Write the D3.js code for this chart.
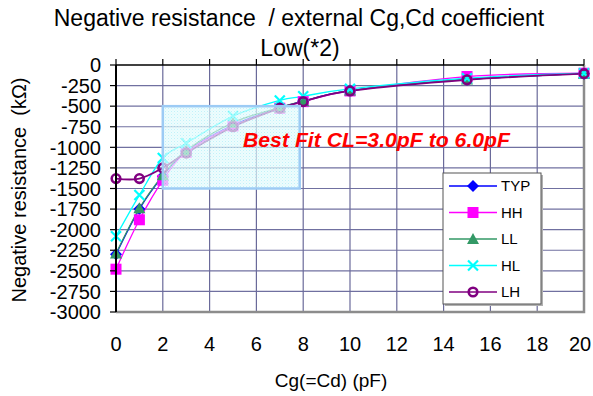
<!DOCTYPE html>
<html>
<head>
<meta charset="utf-8">
<script src="https://cdn.jsdelivr.net/npm/d3@7"></script>
<style>
  body { margin: 0; background: #fff; }
  svg { display: block; font-family: Arial, "Liberation Sans", sans-serif; }
  text { white-space: pre; }
</style>
</head>
<body>
<svg id="chart" width="593" height="396"></svg>
<script>
const width = 593;
const height = 396;

// Cg(=Cd) values in pF
const cg = [0, 1, 2, 3, 5, 7, 8, 10, 15, 20];

// negative resistance in kOhm for each condition
const typ = [-2300, -1750, -1350, -1050, -730, -520, -440, -310, -175, -105];
const hh  = [-2480, -1880, -1400, -1060, -740, -525, -445, -315, -140, -100];
const ll  = [-2290, -1740, -1340, -1040, -700, -515, -440, -310, -175, -105];
const hl  = [-2080, -1580, -1130,  -950, -620, -430, -380, -290, -160, -100];
const lh  = [-1380, -1380, -1250, -1070, -750, -525, -445, -315, -180, -105];

const seriesNames = ["TYP", "HH", "LL", "HL", "LH"];
const xTicks = [0, 2, 4, 6, 8, 10, 12, 14, 16, 18, 20];
const yTicks = [0, -250, -500, -750, -1000, -1250, -1500, -1750, -2000, -2250, -2500, -2750, -3000];

// "best fit" region
const fitX = [2, 7.85];
const fitY = [-500, -1500];

const svg = d3.select("#chart");

const x = d3.scaleLinear().domain([0, 20]).range([116, 584]);
const y = d3.scaleLinear().domain([0, -3000]).range([65, 312]);

const styles = {
  TYP: { color: "#0000ff", marker: "diamond" },
  HH:  { color: "#ff00ff", marker: "square" },
  LL:  { color: "#339966", marker: "triangle" },
  HL:  { color: "#00ffff", marker: "x" },
  LH:  { color: "#800080", marker: "circle" }
};
const values = { TYP: typ, HH: hh, LL: ll, HL: hl, LH: lh };

// pattern for the highlight box
const defs = svg.append("defs");
const pat = defs.append("pattern")
  .attr("id", "dots")
  .attr("width", 3).attr("height", 3)
  .attr("patternUnits", "userSpaceOnUse");
pat.append("rect").attr("width", 3).attr("height", 3).attr("fill", "#e6fbfd");
pat.append("rect").attr("width", 1).attr("height", 1).attr("fill", "#a6ecf5");
pat.append("rect").attr("x", 1.5).attr("y", 1.5).attr("width", 1).attr("height", 1).attr("fill", "#c8f3f8");

// grid
svg.append("g")
  .selectAll("line")
  .data(yTicks.filter(d => d !== 0 && d !== -3000))
  .enter().append("line")
  .attr("x1", x(0)).attr("x2", x(20))
  .attr("y1", d => y(d)).attr("y2", d => y(d))
  .attr("stroke", "#7070a0").attr("stroke-width", 1.2);

svg.append("g")
  .selectAll("line")
  .data(xTicks.filter(d => d !== 0 && d !== 20))
  .enter().append("line")
  .attr("x1", d => x(d)).attr("x2", d => x(d))
  .attr("y1", y(0)).attr("y2", y(-3000))
  .attr("stroke", "#6a6a9a").attr("stroke-width", 1.2);

// plot border (bottom / right)
svg.append("path")
  .attr("d", `M${x(0)},${y(-3000)}H${x(20)}V${y(0)}`)
  .attr("fill", "none")
  .attr("stroke", "#8c8c8c")
  .attr("stroke-width", 2.5);

// lines
const line = d3.line()
  .x((d, i) => x(cg[i]))
  .y(d => y(d))
  .curve(d3.curveCardinal.tension(0));

seriesNames.forEach(name => {
  svg.append("path")
    .datum(values[name])
    .attr("d", line)
    .attr("fill", "none")
    .attr("stroke", styles[name].color)
    .attr("stroke-width", name === "LH" ? 1.8 : 1.3);
});

function drawMarker(g, type, color, cx, cy) {
  if (type === "diamond") {
    g.append("path").attr("d", `M${cx},${cy - 6}L${cx + 6},${cy}L${cx},${cy + 6}L${cx - 6},${cy}Z`)
      .attr("fill", color);
  } else if (type === "square") {
    g.append("rect").attr("x", cx - 5.5).attr("y", cy - 5.5).attr("width", 11).attr("height", 11)
      .attr("fill", color);
  } else if (type === "triangle") {
    g.append("path").attr("d", `M${cx},${cy - 6}L${cx + 6},${cy + 5}L${cx - 6},${cy + 5}Z`)
      .attr("fill", color);
  } else if (type === "x") {
    g.append("path").attr("d", `M${cx - 5},${cy - 5}L${cx + 5},${cy + 5}M${cx + 5},${cy - 5}L${cx - 5},${cy + 5}`)
      .attr("stroke", color).attr("stroke-width", 2.2);
  } else {
    g.append("circle").attr("cx", cx).attr("cy", cy).attr("r", 4.3)
      .attr("fill", "none").attr("stroke", color).attr("stroke-width", 2.6);
  }
}

seriesNames.forEach(name => {
  const g = svg.append("g");
  values[name].forEach((v, i) => drawMarker(g, styles[name].marker, styles[name].color, x(cg[i]), y(v)));
});

// highlight box on top of the curves
svg.append("rect")
  .attr("x", x(fitX[0])).attr("y", y(fitY[0]))
  .attr("width", x(fitX[1]) - x(fitX[0]))
  .attr("height", y(fitY[1]) - y(fitY[0]))
  .attr("fill", "url(#dots)")
  .attr("fill-opacity", 0.7)
  .attr("stroke", "#9ccbf5")
  .attr("stroke-width", 2.5);

svg.append("text")
  .attr("x", 243).attr("y", 147)
  .attr("fill", "#ff0000")
  .style("font-size", "21px")
  .style("font-weight", "bold")
  .style("font-style", "italic")
  .attr("textLength", 267)
  .attr("lengthAdjust", "spacingAndGlyphs")
  .text("Best Fit CL=3.0pF to 6.0pF");

// top axis line with outward ticks
svg.append("line")
  .attr("x1", x(0)).attr("x2", x(20))
  .attr("y1", y(0)).attr("y2", y(0))
  .attr("stroke", "#000").attr("stroke-width", 1.6);
svg.append("g")
  .selectAll("line")
  .data(xTicks)
  .enter().append("line")
  .attr("x1", d => x(d)).attr("x2", d => x(d))
  .attr("y1", y(0) - 6).attr("y2", y(0))
  .attr("stroke", "#000").attr("stroke-width", 1.2);

// left axis
svg.append("line")
  .attr("x1", x(0)).attr("x2", x(0))
  .attr("y1", y(0)).attr("y2", y(-3000))
  .attr("stroke", "#000").attr("stroke-width", 2);
svg.append("g")
  .selectAll("line")
  .data(yTicks)
  .enter().append("line")
  .attr("x1", x(0) - 6).attr("x2", x(0))
  .attr("y1", d => y(d)).attr("y2", d => y(d))
  .attr("stroke", "#000").attr("stroke-width", 1.2);

// tick labels
svg.append("g")
  .selectAll("text")
  .data(yTicks)
  .enter().append("text")
  .attr("x", 101)
  .attr("y", d => y(d))
  .attr("dy", "0.36em")
  .attr("text-anchor", "end")
  .style("font-size", "20px")
  .text(d => d);

svg.append("g")
  .selectAll("text")
  .data(xTicks)
  .enter().append("text")
  .attr("x", d => Math.min(x(d), 580))
  .attr("y", 351)
  .attr("text-anchor", "middle")
  .style("font-size", "20px")
  .text(d => d);

// axis titles
svg.append("text")
  .attr("x", 331).attr("y", 387)
  .attr("text-anchor", "middle")
  .style("font-size", "19px")
  .text("Cg(=Cd) (pF)");

svg.append("text")
  .attr("transform", "translate(26,190) rotate(-90)")
  .attr("text-anchor", "middle")
  .style("font-size", "20px")
  .text("Negative resistance  (kΩ)");

// title
svg.append("text")
  .attr("x", 299).attr("y", 26)
  .attr("text-anchor", "middle")
  .style("font-size", "23px")
  .text("Negative resistance  / external Cg,Cd coefficient");
svg.append("text")
  .attr("x", 300).attr("y", 56)
  .attr("text-anchor", "middle")
  .style("font-size", "23px")
  .text("Low(*2)");

// legend
const legend = svg.append("g").attr("transform", "translate(443,173)");
legend.append("rect")
  .attr("x", 2).attr("y", 2).attr("width", 98).attr("height", 131)
  .attr("fill", "#b0b0b0");
legend.append("rect")
  .attr("width", 98).attr("height", 131)
  .attr("fill", "#fff").attr("stroke", "#555").attr("stroke-width", 1);

seriesNames.forEach((name, i) => {
  const ly = 13 + i * 26.5;
  legend.append("line")
    .attr("x1", 6).attr("x2", 54)
    .attr("y1", ly).attr("y2", ly)
    .attr("stroke", styles[name].color).attr("stroke-width", 1.3);
  drawMarker(legend, styles[name].marker, styles[name].color, 30, ly);
  legend.append("text")
    .attr("x", 58).attr("y", ly)
    .attr("dy", "0.35em")
    .style("font-size", "15px")
    .text(name);
});
</script>
</body>
</html>
